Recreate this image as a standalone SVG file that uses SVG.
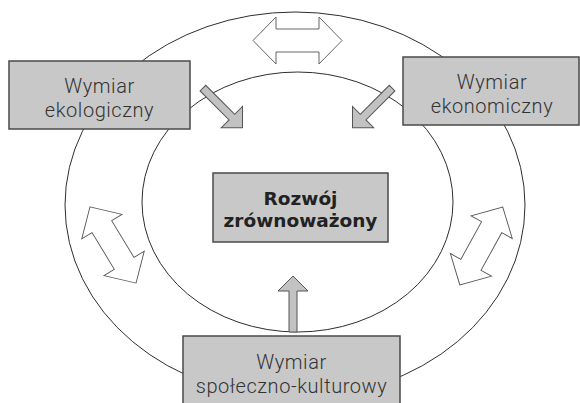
<svg xmlns="http://www.w3.org/2000/svg" width="580" height="403" viewBox="0 0 580 403">
  <style>
    .ring { fill: none; stroke: #2e2e2e; stroke-width: 1; }
    .box { fill: #c8c8c8; stroke: #4a4a4a; stroke-width: 1.5; }
    .label { font-family: Roboto, "Open Sans", sans-serif; font-size: 20px; font-weight: 300; letter-spacing: 0.55px; fill: #333; text-anchor: middle; }
    .title { font-family: "DejaVu Sans", "Open Sans", sans-serif; font-size: 18.5px; font-weight: 700; fill: #222; text-anchor: middle; }
    .flow { fill: #c2c2c2; stroke: #555; stroke-width: 1; stroke-linejoin: miter; }
    .swap { fill: #fff; stroke: #555; stroke-width: 0.9; stroke-linejoin: miter; }
  </style>
  <defs>
    <!-- single filled arrow, tip at origin, pointing along +x -->
    <path id="flowArrow" d="M 0 0 L -15 -15 L -15 -4 L -56 -4 L -56 4 L -15 4 L -15 15 Z"/>
    <!-- double-headed outline arrow, centred on origin -->
    <path id="swapArrow" d="M -44.5 0 L -21.5 -23.5 L -21.5 -11.5 L 21.5 -11.5 L 21.5 -23.5 L 44.5 0 L 21.5 23.5 L 21.5 11.5 L -21.5 11.5 L -21.5 23.5 Z"/>
  </defs>

  <rect width="580" height="403" fill="#fff"/>

  <!-- the two rings -->
  <g id="rings">
    <ellipse class="ring" cx="295" cy="205" rx="230" ry="193"/>
    <ellipse class="ring" cx="297.5" cy="202" rx="155.5" ry="130"/>
  </g>

  <g id="connectors">
    <use href="#swapArrow" class="swap" transform="translate(297.5,40.5)"/>
    <use href="#swapArrow" class="swap" transform="translate(113,245) rotate(58.8)"/>
    <use href="#swapArrow" class="swap" transform="translate(481.3,246) rotate(-61.2)"/>
    <use href="#flowArrow" class="flow" transform="translate(242.5,127.7) rotate(45)"/>
    <use href="#flowArrow" class="flow" transform="translate(352.5,127.7) rotate(135)"/>
    <use href="#flowArrow" class="flow" transform="translate(293,276) rotate(-90)"/>
  </g>

  <g id="ecology">
    <rect class="box" x="9" y="61" width="181" height="68"/>
    <text class="label"><tspan x="99.5" y="93">Wymiar</tspan><tspan x="99.5" y="116.5">ekologiczny</tspan></text>
  </g>

  <g id="economy">
    <rect class="box" x="403" y="57" width="176" height="68"/>
    <text class="label"><tspan x="492" y="89">Wymiar</tspan><tspan x="492" y="112.5">ekonomiczny</tspan></text>
  </g>

  <g id="society">
    <rect class="box" x="183" y="336" width="217" height="80"/>
    <text class="label"><tspan x="291.5" y="369">Wymiar</tspan><tspan x="291.5" y="392.5">społeczno-kulturowy</tspan></text>
  </g>

  <g id="core">
    <rect class="box" x="213" y="173" width="175" height="69"/>
    <text class="title"><tspan x="300.5" y="204.5">Rozwój</tspan><tspan x="300.5" y="227">zrównoważony</tspan></text>
  </g>
</svg>
